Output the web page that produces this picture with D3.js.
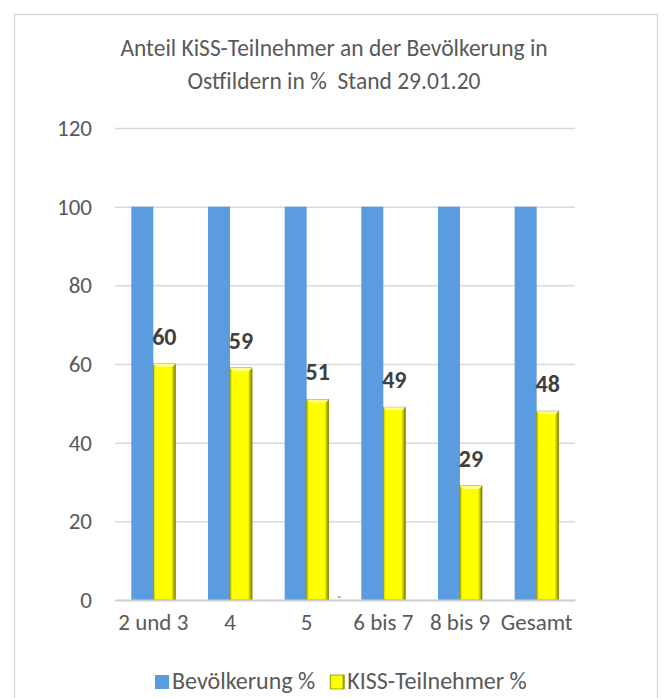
<!DOCTYPE html>
<html>
<head>
<meta charset="utf-8">
<script src="https://cdn.jsdelivr.net/npm/d3@7"></script>
<style>
  html, body { margin: 0; padding: 0; background: #fff; }
  svg { display: block; font-family: Carlito, Calibri, Lato, sans-serif; }
</style>
</head>
<body>
<svg id="chart" width="664" height="698"></svg>
<script>
const categories = ['2 und 3', '4', '5', '6 bis 7', '8 bis 9', 'Gesamt'];
const bevoelkerung = [100, 100, 100, 100, 100, 100];
const kissTeilnehmer = [60, 59, 51, 49, 29, 48];
const seriesNames = ['Bevölkerung %', 'KISS-Teilnehmer %'];
const yTicks = [0, 20, 40, 60, 80, 100, 120];
const titleLines = ['Anteil KiSS-Teilnehmer an der Bevölkerung in', 'Ostfildern in %  Stand 29.01.20'];

const svg = d3.select('svg#chart'),
  margin = {left: 115, right: 89, top: 128, bottom: 98};

const width = 664 - margin.left - margin.right,
  height = 698 - margin.top - margin.bottom;

const blue = '#5b9bdf', textCol = '#595959';

// frame
svg.append('rect')
  .attr('x', 14.5).attr('y', 14.5)
  .attr('width', 643).attr('height', 700)
  .attr('fill', '#fff')
  .attr('stroke', '#d9d9d9').attr('stroke-width', 1.5);

// yellow bevel gradient
const defs = svg.append('defs');
const grad = defs.append('linearGradient').attr('id', 'yel').attr('x1', 0).attr('x2', 1).attr('y1', 0).attr('y2', 0);
grad.append('stop').attr('offset', '0%').attr('stop-color', '#c8c800');
grad.append('stop').attr('offset', '12%').attr('stop-color', '#ffff00');
grad.append('stop').attr('offset', '82%').attr('stop-color', '#ffff00');
grad.append('stop').attr('offset', '100%').attr('stop-color', '#7a7a00');

// title
svg.append('text')
  .attr('x', 334).attr('y', 56)
  .attr('text-anchor', 'middle')
  .attr('fill', textCol)
  .style('font-size', '23.5px')
  .selectAll('tspan')
  .data(titleLines)
  .enter()
  .append('tspan')
  .attr('x', 334)
  .attr('dy', (d, i) => i ? 33 : 0)
  .style('white-space', 'pre')
  .text(d => d);

const g = svg.append('g')
  .attr('transform', `translate(${margin.left},${margin.top})`);

const x = d3.scaleBand().domain(categories).range([0, width]).paddingInner(0.426).paddingOuter(0.213),
  xs = d3.scaleBand().domain(seriesNames).range([0, x.bandwidth()]),
  y = d3.scaleLinear().domain([0, 120]).range([height, 0]);

// gridlines
g.append('g')
  .attr('class', 'grid')
  .call(d3.axisLeft(y).tickValues(yTicks).tickSize(-width).tickFormat(''))
  .call(a => a.select('.domain').remove())
  .selectAll('line')
  .attr('stroke', '#d9d9d9')
  .attr('stroke-width', 1.5);

// y labels
g.append('g')
  .attr('class', 'axis yaxis')
  .call(d3.axisLeft(y).tickValues(yTicks).tickSize(0).tickPadding(23))
  .call(a => a.select('.domain').remove())
  .selectAll('text')
  .attr('fill', textCol)
  .style('font-size', '23px')
  .style('font-family', 'Carlito, Calibri, Lato, sans-serif');

const groups = g.selectAll('g.cat')
  .data(categories.map((c, i) => ({c, vals: [bevoelkerung[i], kissTeilnehmer[i]]})))
  .enter()
  .append('g')
  .attr('class', 'cat')
  .attr('transform', d => `translate(${x(d.c)},0)`);

groups.append('rect')
  .attr('x', xs(seriesNames[0]))
  .attr('y', d => y(d.vals[0]))
  .attr('width', xs.bandwidth())
  .attr('height', d => height - y(d.vals[0]))
  .style('fill', blue);

groups.append('rect')
  .attr('x', xs(seriesNames[1]))
  .attr('y', d => y(d.vals[1]))
  .attr('width', xs.bandwidth())
  .attr('height', d => height - y(d.vals[1]))
  .attr('stroke', '#8f8f00')
  .attr('stroke-width', 0.8)
  .style('fill', 'url(#yel)');

// top bevel highlight
groups.append('path')
  .attr('d', d => {
    const x0 = xs(seriesNames[1]), w = xs.bandwidth(), t = y(d.vals[1]);
    return `M${x0},${t}L${x0 + w},${t}L${x0 + w - 3},${t + 3}L${x0 + 3},${t + 3}Z`;
  })
  .style('fill', '#ffff80');

groups.append('text')
  .attr('x', xs(seriesNames[1]) + xs.bandwidth() / 2)
  .attr('y', d => y(d.vals[1]) - 19)
  .attr('text-anchor', 'middle')
  .attr('fill', '#404040')
  .style('font-size', '24px')
  .style('font-weight', 'bold')
  .text(d => d.vals[1]);

// x axis
g.append('g')
  .attr('class', 'axis xaxis')
  .attr('transform', `translate(0,${height})`)
  .call(d3.axisBottom(x).tickSize(0).tickPadding(14))
  .call(a => a.select('.domain').attr('stroke', '#d0d0d0').attr('stroke-width', 2))
  .selectAll('text')
  .attr('fill', textCol)
  .style('font-size', '23px')
  .style('font-family', 'Carlito, Calibri, Lato, sans-serif');

// small stray mark near the axis
g.append('rect')
  .attr('x', x('5') + x.bandwidth() + 9).attr('y', height - 4)
  .attr('width', 3).attr('height', 2)
  .style('fill', '#b0b0b0');

// legend
const legend = svg.append('g').attr('transform', 'translate(155,675)');
const items = legend.selectAll('g')
  .data(seriesNames)
  .enter()
  .append('g');
items.append('rect')
  .attr('width', 14).attr('height', 14)
  .attr('stroke', (d, i) => i ? '#8f8f00' : 'none')
  .attr('stroke-width', 0.8)
  .style('fill', (d, i) => i ? 'url(#yel)' : blue);
items.append('text')
  .attr('x', 17).attr('y', 14)
  .attr('fill', textCol)
  .style('font-size', '24px')
  .text(d => d);
let lx = 0;
items.each(function () {
  d3.select(this).attr('transform', `translate(${lx},0)`);
  lx += this.getBBox().width + 15;
});
</script>
</body>
</html>
